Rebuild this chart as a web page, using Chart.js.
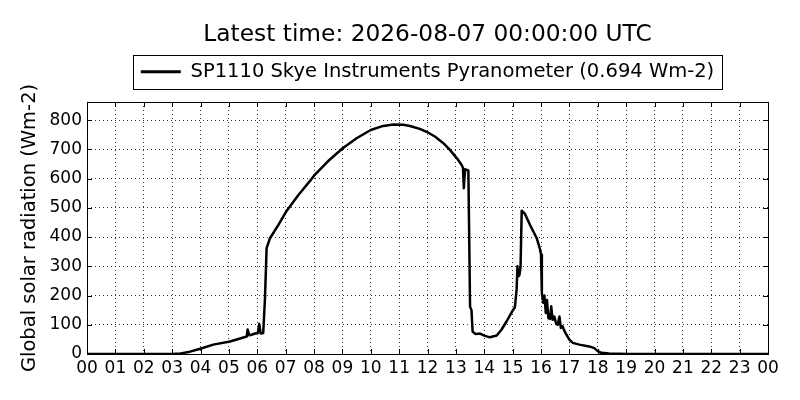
<!DOCTYPE html>
<html>
<head>
<meta charset="utf-8">
<script src="https://cdn.jsdelivr.net/npm/chart.js@4.4.0/dist/chart.umd.min.js"></script>
<style>
  html, body { margin: 0; padding: 0; background: #fff; }
  #wrap { width: 800px; height: 400px; }
</style>
</head>
<body>
<div id="wrap"><canvas id="c" width="800" height="400"></canvas></div>
<script>
const titleText = 'Latest time: 2026-08-07 00:00:00 UTC';
const seriesLabel = 'SP1110 Skye Instruments Pyranometer (0.694 Wm-2)';
const yAxisLabel = 'Global solar radiation (Wm-2)';

// time of day (hours, UTC)
const hours = [0, 1, 2, 3.0, 3.3, 3.63, 3.96, 4.45, 5.04, 5.57, 5.63, 5.66, 5.72, 5.8, 5.92, 6.02, 6.07, 6.12, 6.21, 6.27, 6.33, 6.45, 6.74, 7.04, 7.45, 7.86, 8.0, 8.5, 9.0, 9.5, 10.0, 10.44, 10.8, 11.15, 11.38, 11.73, 11.97, 12.26, 12.56, 12.79, 13.03, 13.2, 13.25, 13.28, 13.3, 13.33, 13.36, 13.44, 13.5, 13.55, 13.59, 13.7, 13.85, 14.0, 14.2, 14.44, 14.6, 14.79, 15.0, 15.08, 15.14, 15.17, 15.2, 15.24, 15.28, 15.32, 15.43, 15.61, 15.85, 15.96, 16.0, 16.03, 16.08, 16.12, 16.17, 16.21, 16.26, 16.32, 16.36, 16.41, 16.47, 16.53, 16.59, 16.65, 16.7, 16.76, 16.8, 16.86, 17.0, 17.12, 17.35, 17.7, 17.88, 18.0, 18.12, 18.4, 18.8, 19, 24];
// global solar radiation (Wm-2)
const radiation = [0, 0, 0, 0, 2, 8, 17, 32, 43, 58, 60, 84, 64, 66, 70, 72, 103, 70, 72, 185, 362, 396, 441, 490, 544, 592, 610, 660, 703, 738, 766, 780, 785, 784, 780, 770, 760, 744, 721, 698, 670, 647, 637, 567, 600, 632, 630, 628, 162, 150, 76, 68, 70, 63, 57, 63, 82, 112, 148, 160, 220, 300, 265, 270, 300, 490, 480, 442, 396, 360, 340, 208, 175, 200, 140, 185, 123, 120, 163, 117, 128, 105, 100, 128, 89, 95, 85, 72, 49, 38, 32, 26, 20, 10, 4, 2, 1, 0, 0];

const xMin = 0, xMax = 24, xStep = 1;
const yMin = 0, yMax = 862, yStep = 100;

const FONT = 'DejaVu Sans';

const points = hours.map((h, i) => ({ x: h, y: radiation[i] }));

// inward tick marks on all four sides (matplotlib classic look) + axes frame
const innerTicks = {
  id: 'innerTicks',
  afterDatasetsDraw(chart) {
    const { ctx, chartArea: a, scales } = chart;
    const len = 5;
    ctx.save();
    ctx.strokeStyle = '#000';
    ctx.lineWidth = 1;
    ctx.beginPath();
    scales.x.ticks.forEach(t => {
      const px = Math.round(scales.x.getPixelForValue(t.value)) + 0.5;
      ctx.moveTo(px, a.bottom); ctx.lineTo(px, a.bottom - len);
      ctx.moveTo(px, a.top); ctx.lineTo(px, a.top + len);
    });
    scales.y.ticks.forEach(t => {
      const py = Math.round(scales.y.getPixelForValue(t.value)) + 0.5;
      ctx.moveTo(a.left, py); ctx.lineTo(a.left + len, py);
      ctx.moveTo(a.right, py); ctx.lineTo(a.right - len, py);
    });
    ctx.stroke();
    ctx.strokeRect(Math.round(a.left) + 0.5, Math.round(a.top) + 0.5, Math.round(a.right - a.left), Math.round(a.bottom - a.top));
    ctx.restore();
  }
};

// frame around the legend
const legendFrame = {
  id: 'legendFrame',
  afterDraw(chart) {
    const lg = chart.legend;
    if (!lg || !lg.legendHitBoxes || !lg.legendHitBoxes.length) return;
    const hb = lg.legendHitBoxes[0];
    const { ctx } = chart;
    const padX = 8, padY = 7;
    ctx.save();
    ctx.strokeStyle = '#000';
    ctx.lineWidth = 1;
    ctx.strokeRect(Math.round(hb.left - padX) + 0.5, Math.round(hb.top - padY) + 0.5,
                   Math.round(hb.width + 2 * padX), Math.round(hb.height + 2 * padY));
    ctx.restore();
  }
};

new Chart(document.getElementById('c'), {
  type: 'line',
  data: {
    datasets: [{
      label: seriesLabel,
      data: points,
      borderColor: '#000',
      backgroundColor: '#000',
      borderWidth: 2.5,
      pointRadius: 0,
      tension: 0,
      fill: false,
      borderJoinStyle: 'round',
      borderCapStyle: 'round'
    }]
  },
  options: {
    responsive: false,
    animation: false,
    devicePixelRatio: 1,
    layout: { padding: { left: 0, right: 32, top: 0, bottom: 0 } },
    plugins: {
      title: {
        display: true,
        text: titleText,
        color: '#000',
        fullSize: false,
        font: { family: FONT, size: 23.3, weight: 'normal', lineHeight: 1.2 },
        padding: { top: 21, bottom: 3 }
      },
      subtitle: {
        // empty spacer between the legend and the plot area
        display: true,
        text: ' ',
        position: 'top',
        weight: 500,
        fullSize: false,
        font: { family: FONT, size: 1, lineHeight: 1 },
        padding: { top: 0, bottom: 9.5 }
      },
      legend: {
        display: true,
        position: 'top',
        fullSize: false,
        labels: {
          color: '#000',
          font: { family: FONT, size: 19.5 },
          usePointStyle: true,
          pointStyle: 'line',
          pointStyleWidth: 40,
          padding: 10,
          generateLabels(chart) {
            const ds = chart.data.datasets[0];
            return [{
              text: ds.label, datasetIndex: 0, pointStyle: 'line',
              strokeStyle: '#000', fillStyle: '#000', lineWidth: 3, fontColor: '#000'
            }];
          }
        }
      },
      tooltip: { enabled: false }
    },
    scales: {
      x: {
        type: 'linear',
        min: xMin, max: xMax,
        afterFit(s) { s.height = 46; },
        ticks: {
          stepSize: xStep,
          autoSkip: false,
          maxRotation: 0,
          color: '#000',
          padding: 4,
          font: { family: FONT, size: 17 },
          callback: v => String(v % 24).padStart(2, '0')
        },
        grid: { color: '#000', lineWidth: 0.8, drawTicks: false, tickLength: 0 },
        border: { display: false, dash: [1, 3] }
      },
      y: {
        type: 'linear',
        min: yMin, max: yMax,
        afterFit(s) { s.width = 87; },
        ticks: {
          stepSize: yStep,
          includeBounds: false,
          color: '#000',
          padding: 5,
          font: { family: FONT, size: 17 }
        },
        title: {
          display: true,
          text: yAxisLabel,
          color: '#000',
          font: { family: FONT, size: 19.5 },
          padding: { top: 18, bottom: 0 }
        },
        grid: { color: '#000', lineWidth: 0.8, drawTicks: false, tickLength: 0 },
        border: { display: false, dash: [1, 3] }
      }
    }
  },
  plugins: [innerTicks, legendFrame]
});
</script>
</body>
</html>
